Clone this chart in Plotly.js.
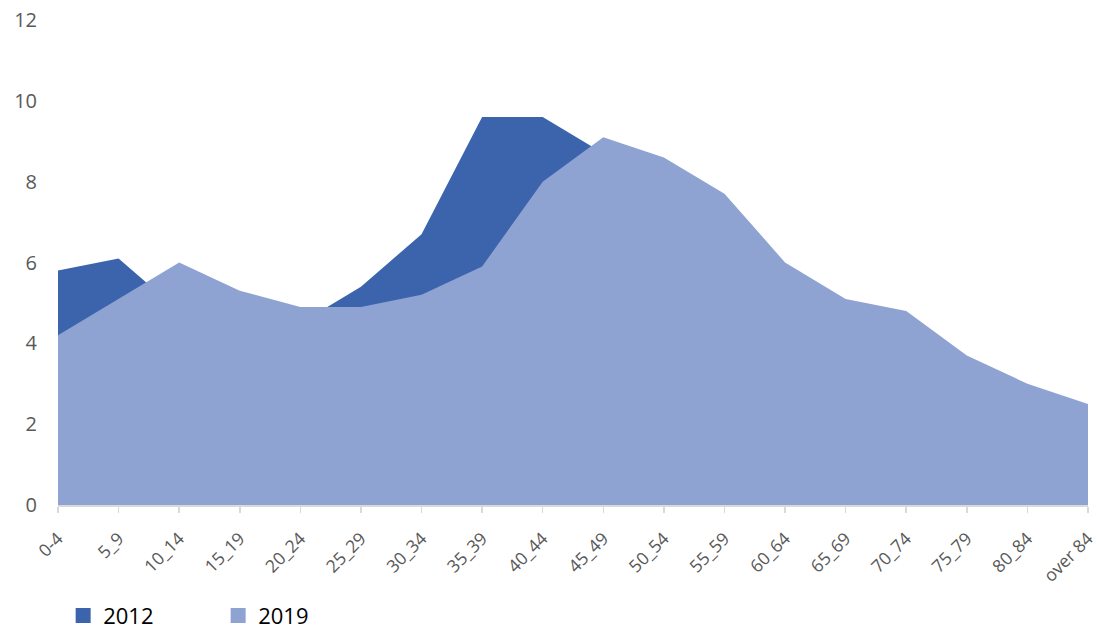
<!DOCTYPE html>
<html>
<head>
<meta charset="utf-8">
<script src="https://cdn.plot.ly/plotly-3.0.1.min.js"></script>
<style>html,body{margin:0;padding:0;background:#fff;}#chart{width:1097px;height:634px;}</style>
</head>
<body>
<div id="chart"></div>
<script>
const categories = ["0-4","5_9","10_14","15_19","20_24","25_29","30_34","35_39","40_44","45_49","50_54","55_59","60_64","65_69","70_74","75_79","80_84","over 84"];
const values2012 = [5.8, 6.1, 4.8, 4.6, 4.5, 5.4, 6.7, 9.6, 9.6, 8.7, 7.8, 6.5, 5.0, 4.2, 3.5, 2.8, 2.0, 1.3];
const values2019 = [4.2, 5.1, 6.0, 5.3, 4.9, 4.9, 5.2, 5.9, 8.0, 9.1, 8.6, 7.7, 6.0, 5.1, 4.8, 3.7, 3.0, 2.5];
const yTicks = [0, 2, 4, 6, 8, 10, 12];
const seriesNames = ["2012", "2019"];
const seriesColors = ["#3C64AD", "#8FA3D3"];

const traces = [
  {x: categories, y: values2012, name: seriesNames[0], type: "scatter", mode: "lines", showlegend: false,
   fill: "tozeroy", fillcolor: seriesColors[0], line: {width: 0, color: seriesColors[0]}},
  {x: categories, y: values2019, name: seriesNames[1], type: "scatter", mode: "lines", showlegend: false,
   fill: "tozeroy", fillcolor: seriesColors[1], line: {width: 0, color: seriesColors[1]}},
  // legend entries (square swatches)
  {x: [null], y: [null], name: seriesNames[0], type: "scatter", mode: "markers",
   marker: {symbol: "square", size: 15, color: seriesColors[0]}},
  {x: [null], y: [null], name: seriesNames[1], type: "scatter", mode: "markers",
   marker: {symbol: "square", size: 15, color: seriesColors[1]}}
];

const layout = {
  width: 1097, height: 634,
  margin: {l: 58, r: 9, t: 20, b: 129, autoexpand: false},
  paper_bgcolor: "#fff", plot_bgcolor: "#fff",
  font: {family: "Open Sans, Liberation Sans, sans-serif", color: "#595959", size: 18},
  showlegend: true,
  legend: {orientation: "h", x: 0.005, xanchor: "left", yref: "paper", y: -0.228, yanchor: "middle",
           font: {size: 22, color: "#000"}, itemwidth: 30, entrywidth: 110, entrywidthmode: "pixels",
           tracegroupgap: 0},
  xaxis: {type: "category", range: [0, categories.length - 1], showgrid: false, zeroline: false,
          automargin: false,
          showline: true, linecolor: "#d9d9d9", linewidth: 1.5,
          ticks: "outside", ticklen: 6, tickcolor: "#d9d9d9", tickwidth: 1.5,
          ticklabelstandoff: 9,
          tickangle: -45, tickfont: {size: 17.5, color: "#595959"}},
  yaxis: {range: [0, 12], tickvals: yTicks, showgrid: false, zeroline: false, showline: false,
          automargin: false,
          ticks: "", ticklabelstandoff: 20, tickfont: {size: 20, color: "#595959"}}
};

Plotly.newPlot("chart", traces, layout, {displayModeBar: false, staticPlot: true});
</script>
</body>
</html>
